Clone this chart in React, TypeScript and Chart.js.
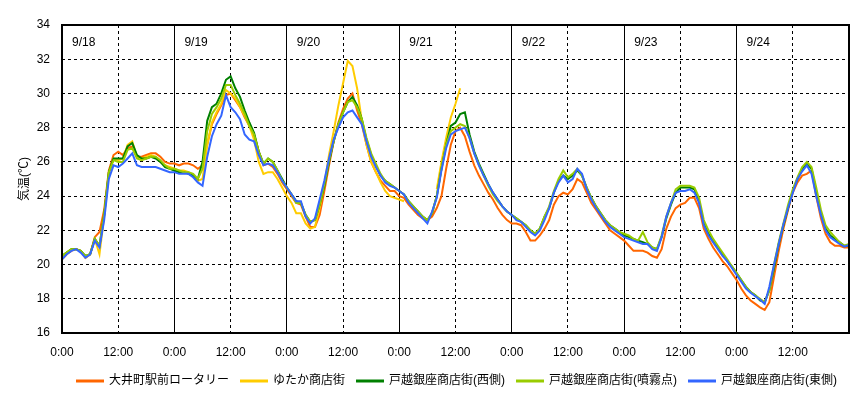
import React, { useEffect, useRef } from "react";
import { Chart, registerables } from "chart.js";

Chart.register(...registerables);

const FONT = "'Liberation Sans', 'Noto Sans CJK JP', sans-serif";

// hours since 9/18 0:00, one reading per hour
const HOURS = Array.from({ length: 169 }, (_, i) => i);
const dayLabels = ["9/18", "9/19", "9/20", "9/21", "9/22", "9/23", "9/24"];
const xTickLabels = ["0:00", "12:00"];
const yTitle = "気温(℃)";
const seriesNames = [
  "大井町駅前ロータリー",
  "ゆたか商店街",
  "戸越銀座商店街(西側)",
  "戸越銀座商店街(噴霧点)",
  "戸越銀座商店街(東側)",
];
const seriesColors = ["#FF6600", "#FFCC00", "#008000", "#99CC00", "#3366FF"];

const oimachi = [
  20.3, 20.6, 20.8, 20.9, 20.8, 20.4, 20.6, 21.6, 21.9, 23.2, 25.5, 26.4, 26.6, 26.4, 26.8, 26.9, 26.3, 26.3, 26.4, 26.5, 26.5, 26.3, 26.0, 25.9, 25.9,
  25.8, 25.9, 25.9, 25.8, 25.6, 25.8, 27.0, 28.2, 28.8, 29.3, 29.9, 30.0, 29.6, 29.2, 28.6, 28.1, 27.6, 26.6, 25.8, 25.9, 25.7, 25.3, 24.8, 24.4,
  24.0, 23.6, 23.5, 22.8, 22.2, 22.2, 22.9, 24.3, 25.8, 27.2, 28.3, 29.1, 29.7, 30.0, 29.0, 28.2, 27.0, 26.0, 25.4, 24.9, 24.6, 24.3, 24.3, 24.0,
  23.9, 23.5, 23.2, 22.9, 22.7, 22.6, 22.8, 23.3, 24.0, 25.6, 27.0, 27.8, 28.0, 27.5, 26.6, 25.8, 25.2, 24.7, 24.2, 23.8, 23.3, 22.9, 22.6, 22.4,
  22.4, 22.3, 21.9, 21.4, 21.4, 21.7, 22.1, 22.6, 23.5, 24.0, 24.2, 24.1, 24.4, 25.0, 24.8, 24.2, 23.6, 23.2, 22.8, 22.4, 22.0, 21.8, 21.6, 21.4,
  21.1, 20.8, 20.8, 20.8, 20.7, 20.5, 20.4, 20.9, 22.1, 22.8, 23.3, 23.5, 23.6, 23.9, 23.9, 23.3, 22.1, 21.5, 21.0, 20.6, 20.2, 19.9, 19.5, 19.1,
  18.6, 18.2, 17.9, 17.7, 17.5, 17.35, 17.8, 19.3, 20.8, 22.1, 23.2, 24.2, 24.8, 25.2, 25.3, 25.5, 24.0, 22.7, 21.8, 21.3, 21.1, 21.1, 21.0, 21.0,
];

const yutaka = [
  20.5, 20.7, 20.9, 20.9, 20.8, 20.4, 20.6, 21.5, 20.6, 22.8, 25.3, 26.2, 26.1, 26.2, 27.0, 27.2, 26.3, 26.2, 26.3, 26.4, 26.3, 26.0, 25.8, 25.7, 25.6,
  25.5, 25.5, 25.4, 25.2, 24.9, 25.0, 27.0, 28.3, 28.9, 29.4, 30.2, 30.0, 29.7, 29.2, 28.7, 28.1, 27.3, 26.0, 25.3, 25.4, 25.4, 25.0, 24.5, 24.0,
  23.6, 23.0, 23.0, 22.4, 22.1, 22.2, 23.3, 24.7, 26.4, 27.8, 29.3, 30.6, 31.9, 31.6, 30.3, 28.4, 27.0, 26.0, 25.4, 24.8, 24.3, 24.0, 23.9, 23.8,
  23.7, null, null, null, null, null, null, 24.4, 26.0, 27.4, 28.6, 29.4, 30.3, null, null, null, null, null, null, null, null, null, null, null,
  null, null, null, null, null, null, null, null, null, null, null, null, null, null, null, null, null, null, null, null, null, null, null, null,
  null, null, null, null, null, null, null, null, null, null, null, null, null, null, null, null, null, null, null, null, null, null, null, null,
  null, null, null, null, null, null, null, null, null, null, null, null, null, null, null, null, null, null, null, null, null, null, null, null,
];

const nishi = [
  20.5, 20.7, 20.9, 20.9, 20.8, 20.5, 20.6, 21.5, 21.1, 22.9, 25.4, 26.2, 26.2, 26.2, 26.9, 27.1, 26.4, 26.2, 26.2, 26.3, 26.2, 26.0, 25.7, 25.6, 25.5,
  25.4, 25.4, 25.3, 25.2, 25.0, 26.0, 28.4, 29.2, 29.4, 30.0, 30.8, 31.0, 30.3, 29.8, 29.0, 28.3, 27.7, 26.6, 25.9, 26.2, 26.0, 25.5, 25.0, 24.5,
  24.1, 23.7, 23.6, 22.9, 22.5, 22.6, 23.5, 24.6, 26.0, 27.2, 28.2, 28.9, 29.5, 29.8, 29.3, 28.5, 27.3, 26.4, 25.8, 25.2, 24.9, 24.7, 24.5, 24.3,
  24.1, 23.7, 23.4, 23.1, 22.8, 22.6, 23.0, 24.0, 25.6, 27.0, 28.1, 28.3, 28.8, 28.9, 27.6, 26.6, 25.9, 25.3, 24.7, 24.2, 23.8, 23.4, 23.1, 22.9,
  22.7, 22.5, 22.3, 22.0, 21.8, 22.1, 22.8, 23.3, 24.2, 24.9, 25.2, 25.0, 25.2, 25.5, 25.2, 24.5, 23.9, 23.4, 23.0, 22.6, 22.3, 22.1, 21.9, 21.7,
  21.6, 21.5, 21.4, 21.3, 21.2, 21.0, 20.9, 21.6, 22.7, 23.5, 24.2, 24.5, 24.5, 24.5, 24.4, 23.7, 22.4, 21.8, 21.4, 21.0, 20.6, 20.2, 19.9, 19.5,
  19.1, 18.7, 18.4, 18.2, 17.9, 17.8, 18.5, 19.8, 21.2, 22.3, 23.3, 24.3, 25.0, 25.6, 25.9, 25.6, 24.3, 23.0, 22.1, 21.7, 21.5, 21.3, 21.1, 21.1,
];

const funmu = [
  20.5, 20.7, 20.9, 20.9, 20.8, 20.5, 20.6, 21.5, 21.1, 22.9, 25.4, 26.1, 26.0, 26.0, 26.7, 26.8, 26.2, 26.1, 26.2, 26.3, 26.3, 26.1, 25.8, 25.6, 25.6,
  25.5, 25.4, 25.4, 25.3, 25.0, 25.6, 27.8, 28.8, 29.2, 29.7, 30.5, 30.5, 29.9, 29.4, 28.8, 28.1, 27.6, 26.6, 25.9, 26.2, 26.0, 25.5, 24.9, 24.5,
  24.1, 23.6, 23.6, 22.9, 22.5, 22.6, 23.5, 24.7, 26.1, 27.2, 28.2, 28.9, 29.5, 29.6, 29.2, 28.5, 27.4, 26.5, 25.9, 25.3, 24.9, 24.7, 24.5, 24.3,
  24.1, 23.7, 23.4, 23.1, 22.8, 22.6, 23.0, 24.0, 25.6, 27.0, 27.8, 28.0, 28.2, 28.1, 27.4, 26.5, 25.8, 25.2, 24.6, 24.1, 23.7, 23.4, 23.1, 22.9,
  22.7, 22.5, 22.3, 22.0, 21.8, 22.1, 22.8, 23.4, 24.3, 25.0, 25.5, 25.1, 25.3, 25.6, 25.2, 24.5, 23.9, 23.4, 23.0, 22.6, 22.3, 22.1, 21.9, 21.8,
  21.7, 21.5, 21.4, 21.9, 21.3, 21.0, 20.9, 21.7, 22.8, 23.6, 24.4, 24.6, 24.6, 24.6, 24.5, 23.9, 22.6, 22.0, 21.5, 21.1, 20.7, 20.3, 19.9, 19.5,
  19.1, 18.7, 18.4, 18.2, 18.0, 17.8, 18.5, 20.0, 21.3, 22.4, 23.5, 24.4, 25.1, 25.7, 26.0, 25.7, 24.5, 23.2, 22.3, 21.9, 21.6, 21.3, 21.1, 21.2,
];

const higashi = [
  20.3, 20.6, 20.8, 20.9, 20.7, 20.4, 20.6, 21.4, 21.0, 22.6, 25.0, 25.8, 25.7, 25.9, 26.2, 26.5, 25.8, 25.7, 25.7, 25.7, 25.7, 25.6, 25.5, 25.4, 25.4,
  25.3, 25.3, 25.3, 25.1, 24.8, 24.6, 26.3, 27.5, 28.2, 28.7, 29.9, 29.2, 28.9, 28.5, 27.6, 27.3, 27.2, 26.4, 25.8, 25.9, 25.8, 25.4, 24.9, 24.5,
  24.1, 23.7, 23.7, 22.8, 22.4, 22.7, 23.8, 24.9, 26.2, 27.3, 28.0, 28.6, 28.9, 29.0, 28.6, 28.2, 27.2, 26.3, 25.7, 25.2, 24.8, 24.6, 24.5, 24.3,
  24.1, 23.6, 23.3, 23.0, 22.7, 22.4, 23.1, 23.9, 25.5, 26.8, 27.6, 27.8, 27.9, 28.0, 27.4, 26.5, 25.8, 25.2, 24.7, 24.2, 23.8, 23.4, 23.1, 22.9,
  22.6, 22.5, 22.2, 21.9, 21.7, 22.0, 22.6, 23.3, 24.2, 24.8, 25.2, 24.8, 25.0, 25.6, 25.3, 24.4, 23.8, 23.3, 22.9, 22.5, 22.2, 22.0, 21.8, 21.6,
  21.5, 21.4, 21.3, 21.2, 21.2, 20.9, 20.8, 21.6, 22.8, 23.6, 24.2, 24.3, 24.3, 24.4, 24.2, 23.6, 22.3, 21.7, 21.3, 20.9, 20.5, 20.2, 19.8, 19.4,
  19.0, 18.6, 18.35, 18.15, 17.95, 17.7, 18.7, 20.0, 21.2, 22.35, 23.3, 24.2, 25.0, 25.45, 25.8, 25.3, 24.0, 22.9, 22.0, 21.6, 21.4, 21.2, 21.05, 21.15,
];

export default function App() {
  const ref = useRef<HTMLCanvasElement>(null);

  useEffect(() => {
    const series = [oimachi, yutaka, nishi, funmu, higashi];

    const decor = {
      id: "decor",
      beforeDatasetsDraw(chart: any) {
        const { ctx, chartArea, scales } = chart;
        const x = scales.x;
        ctx.save();
        ctx.font = `12px ${FONT}`;
        ctx.fillStyle = "#000";
        ctx.textAlign = "left";
        ctx.textBaseline = "middle";
        dayLabels.forEach((t, i) => {
          ctx.fillText(t, x.getPixelForValue(i * 24) + 10, chartArea.top + 18);
        });
        ctx.restore();
      },
      afterDatasetsDraw(chart: any) {
        const { ctx, chartArea } = chart;
        ctx.save();
        ctx.strokeStyle = "#000";
        ctx.lineWidth = 2;
        ctx.strokeRect(
          chartArea.left,
          chartArea.top,
          chartArea.right - chartArea.left,
          chartArea.bottom - chartArea.top
        );
        ctx.restore();
      },
    };

    const chart = new Chart(ref.current as HTMLCanvasElement, {
      type: "line",
      data: {
        datasets: series.map((vals, i) => ({
          label: seriesNames[i],
          data: vals.map((v, j) => ({ x: HOURS[j], y: v })),
          borderColor: seriesColors[i],
          backgroundColor: seriesColors[i],
          borderWidth: 2,
          pointRadius: 0,
          tension: 0,
          spanGaps: false,
          order: series.length - i,
        })),
      },
      options: {
        responsive: false,
        animation: false,
        devicePixelRatio: 1,
        layout: { padding: { top: 25, right: 16, bottom: 0, left: 0 } },
        plugins: {
          legend: {
            position: "bottom",
            align: "end",
            labels: {
              boxWidth: 26,
              boxHeight: 1,
              padding: 12,
              color: "#000",
              font: { family: FONT, size: 12 },
              sort: (a: any, b: any) => a.datasetIndex - b.datasetIndex,
            },
          },
          tooltip: { enabled: false },
        },
        scales: {
          x: {
            type: "linear",
            min: 0,
            max: 168,
            afterFit: (s: any) => {
              s.height = 30;
            },
            ticks: {
              stepSize: 12,
              autoSkip: false,
              maxRotation: 0,
              padding: 12,
              color: "#000",
              font: { family: FONT, size: 12 },
              callback: (v: any) =>
                v >= 168 ? "" : v % 24 === 0 ? xTickLabels[0] : xTickLabels[1],
            },
            grid: { color: "#000", lineWidth: 1, drawTicks: false },
            border: {
              display: false,
              dash: (ctx: any) =>
                ctx.tick && ctx.tick.value % 24 === 0 ? [] : [3, 3],
            },
          },
          y: {
            min: 16,
            max: 34,
            afterFit: (s: any) => {
              s.width = 62;
            },
            ticks: {
              stepSize: 2,
              padding: 12,
              color: "#000",
              font: { family: FONT, size: 12 },
            },
            title: {
              display: true,
              text: yTitle,
              color: "#000",
              font: { family: FONT, size: 12 },
              padding: { top: 17, bottom: 0 },
            },
            grid: { color: "#000", lineWidth: 1, drawTicks: false },
            border: { display: false, dash: [3, 3] },
          },
        },
      },
      plugins: [decor],
    });

    return () => chart.destroy();
  }, []);

  return (
    <div
      style={{
        position: "absolute",
        left: 0,
        top: 0,
        width: 865,
        height: 397,
        background: "#fff",
      }}
    >
      <canvas ref={ref} width={865} height={397} style={{ display: "block" }} />
    </div>
  );
}
